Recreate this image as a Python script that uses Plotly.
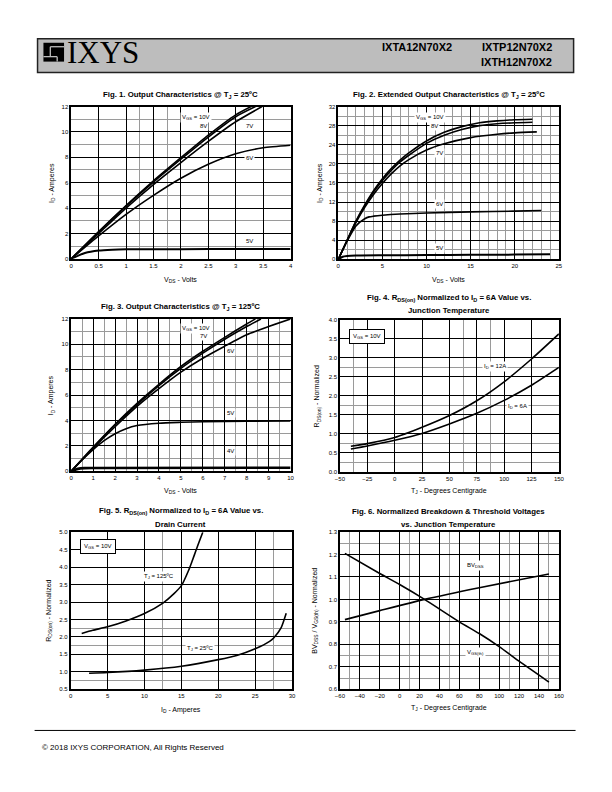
import plotly.graph_objects as go

F = "Liberation Sans"
FN = "Liberation Sans Narrow, Liberation Sans"

# ---------------- data ----------------
# Fig 1: Output characteristics @ 25C (VDS volts, ID amperes)
f1_x_10v = [0, 0.5, 1, 1.5, 2, 2.5, 3, 3.28]
f1_y_10v = [0, 2.15, 4.2, 6.15, 7.97, 9.75, 11.35, 12.0]
f1_x_8v = [0, 0.5, 1, 1.5, 2, 2.5, 3, 3.36]
f1_y_8v = [0, 2.1, 4.15, 6.05, 7.85, 9.6, 11.2, 12.0]
f1_x_7v = [0, 0.5, 1, 1.5, 2, 2.5, 3, 3.48]
f1_y_7v = [0, 2.0, 4.0, 5.85, 7.58, 9.25, 10.8, 12.0]
f1_x_6v = [0, 0.5, 1, 1.5, 2, 2.5, 3, 3.5, 4]
f1_y_6v = [0, 1.8, 3.5, 5.0, 6.35, 7.45, 8.28, 8.75, 8.95]
f1_x_5v = [0, 0.25, 0.5, 0.75, 1, 1.5, 2, 3, 4]
f1_y_5v = [0, 0.45, 0.65, 0.72, 0.75, 0.76, 0.76, 0.77, 0.78]

# Fig 2: Extended output characteristics @ 25C
f2_x_10v = [0, 1, 2, 3, 4, 5, 6, 7, 8, 10, 12, 14, 16, 18, 20, 22]
f2_y_10v = [0, 4, 8, 11.4, 14.4, 16.9, 19.0, 20.8, 22.3, 24.8, 26.6, 27.8, 28.6, 29.0, 29.25, 29.35]
f2_x_8v = [0, 1, 2, 3, 4, 5, 6, 7, 8, 10, 12, 14, 16, 18, 20, 22]
f2_y_8v = [0, 4, 7.9, 11.2, 14.1, 16.5, 18.6, 20.4, 21.8, 24.3, 26.0, 27.2, 28.0, 28.4, 28.6, 28.7]
f2_x_7v = [0, 1, 2, 3, 4, 5, 6, 7, 8, 10, 12, 15, 18, 20, 22.5]
f2_y_7v = [0, 3.9, 7.7, 10.9, 13.6, 15.9, 17.9, 19.6, 20.9, 22.9, 24.2, 25.5, 26.2, 26.5, 26.7]
f2_x_6v = [0, 1, 2, 3, 3.5, 4, 5, 7, 10, 15, 20, 23]
f2_y_6v = [0, 3.8, 7.0, 8.5, 8.9, 9.05, 9.25, 9.5, 9.7, 9.95, 10.1, 10.25]
f2_x_5v = [0, 0.5, 1, 2, 5, 10, 15, 20, 24]
f2_y_5v = [0, 0.55, 0.7, 0.8, 0.85, 0.9, 0.95, 1.0, 1.1]

# Fig 3: Output characteristics @ 125C
f3_x_10v = [0, 1, 2, 3, 4, 5, 6, 7, 8, 8.4]
f3_y_10v = [0, 1.9, 3.7, 5.35, 6.85, 8.25, 9.45, 10.55, 11.6, 12.0]
f3_x_7v = [0, 1, 2, 3, 4, 5, 6, 7, 8, 8.65]
f3_y_7v = [0, 1.85, 3.65, 5.25, 6.75, 8.1, 9.3, 10.4, 11.4, 12.0]
f3_x_6v = [0, 1, 2, 3, 4, 5, 6, 7, 8, 9, 10]
f3_y_6v = [0, 1.8, 3.5, 5.1, 6.5, 7.8, 8.9, 9.85, 10.75, 11.4, 12.0]
f3_x_5v = [0, 0.5, 1, 1.5, 2, 2.5, 3, 4, 5, 6, 8, 10]
f3_y_5v = [0, 0.9, 1.7, 2.4, 2.95, 3.35, 3.6, 3.78, 3.85, 3.9, 3.94, 3.96]
f3_x_4v = [0, 0.3, 0.6, 1, 10]
f3_y_4v = [0, 0.18, 0.24, 0.25, 0.27]

# Fig 4: RDS(on) normalized vs junction temperature
f4_tj = [-40, -25, 0, 25, 50, 75, 100, 125, 150]
f4_12a = [0.67, 0.74, 0.9, 1.17, 1.48, 1.87, 2.37, 2.97, 3.63]
f4_6a = [0.6, 0.68, 0.83, 1.01, 1.26, 1.54, 1.88, 2.28, 2.75]

# Fig 5: RDS(on) normalized vs drain current
f5_x_125 = [1.5, 3, 5, 7.5, 10, 12.5, 14, 15, 16, 16.5, 17, 17.5, 17.9]
f5_y_125 = [2.1, 2.19, 2.29, 2.46, 2.67, 2.97, 3.24, 3.47, 3.92, 4.2, 4.49, 4.78, 5.0]
f5_x_25 = [2.5, 5, 10, 15, 20, 22.5, 25, 27, 27.5, 28.5, 29.2]
f5_y_25 = [0.96, 0.98, 1.05, 1.16, 1.35, 1.47, 1.66, 1.88, 1.97, 2.26, 2.68]

# Fig 6: Normalized breakdown & threshold voltages
f6_x_bv = [-55, -20, 25, 80, 150]
f6_y_bv = [0.91, 0.95, 1.0, 1.052, 1.113]
f6_x_vth = [-55, -20, 0, 25, 60, 80, 100, 120, 150]
f6_y_vth = [1.205, 1.115, 1.066, 1.0, 0.9, 0.848, 0.79, 0.725, 0.632]

# ---------------- helpers ----------------
OFF = 8  # default page body margin
W, H = 612 - OFF, 792 - OFF
def X(px): return (px - OFF) / W
def Y(py): return 1 - (py - OFF) / H

fig = go.Figure()

def line(x, y, ax, width=1.6):
    fig.add_trace(go.Scatter(x=x, y=y, mode="lines", xaxis="x" + ax, yaxis="y" + ax,
                             line=dict(color="black", width=width, shape="spline", smoothing=0.6),
                             showlegend=False, hoverinfo="skip"))

def axis(dom, rng, dtick, minor_vals, anchor, fmt=None):
    d = dict(domain=dom, range=rng, dtick=dtick, tick0=0, showgrid=True, gridcolor="black",
             gridwidth=1, showline=True, linecolor="black", linewidth=1.5, mirror=True,
             zeroline=False, ticks="", tickfont=dict(size=6, family=F, color="black"),
             minor=dict(tickvals=minor_vals, showgrid=True, gridcolor="#9a9a9a", gridwidth=1, ticks=""),
             anchor=anchor, fixedrange=True)
    if fmt:
        d["tickformat"] = fmt
    return d

# plot areas in page pixels (left, right, top, bottom)
A1 = (67.3, 290.7, 104.3, 257.7)
A2 = (339.3, 564.0, 104.3, 258.3)
A3 = (67.3, 290.7, 318.3, 471.7)
A4 = (341.0, 564.0, 319.3, 472.3)
A5 = (66.7, 292.3, 533.3, 691.5)
A6 = (341.0, 564.0, 533.0, 691.5)

def xd(a): return [X(a[0]), X(a[1])]
def yd(a): return [Y(a[3]), Y(a[2])]

def frange(lo, hi, step):
    out, v = [], lo
    while v <= hi + 1e-9:
        out.append(round(v, 4)); v += step
    return out

layout_axes = dict(
    xaxis=axis(xd(A1), [0, 4], 0.5, [1.25, 1.75], "y"),
    yaxis=axis(yd(A1), [0, 12], 2, [1, 3, 5, 7, 9, 11], "x"),
    xaxis2=axis(xd(A2), [0, 25], 5, [v for v in range(1, 25) if v % 5], "y2"),
    yaxis2=axis(yd(A2), [0, 32], 4, frange(2, 30, 4), "x2"),
    xaxis3=axis(xd(A3), [0, 10], 1, frange(0.5, 9.5, 1), "y3"),
    yaxis3=axis(yd(A3), [0, 12], 2, [1, 3, 5, 7, 9, 11], "x3"),
    xaxis4=axis(xd(A4), [-50, 150], 25, [-37.5, 62.5, 87.5], "y4"),
    yaxis4=axis(yd(A4), [0, 4], 0.5, [0.25, 0.75, 1.75, 2.75], "x4", ".1f"),
    xaxis5=axis(xd(A5), [0, 30], 5, [12.5, 27.5], "y5"),
    yaxis5=axis(yd(A5), [0.5, 5.0], 0.5, [0.75, 1.75, 2.25], "x5", ".1f"),
    xaxis6=axis(xd(A6), [-60, 160], 20, [-50, 10, 50, 110, 150], "y6"),
    yaxis6=axis(yd(A6), [0.6, 1.3], 0.1, [0.65, 0.75, 1.25], "x6", ".1f"),
)

# traces
line(f1_x_10v, f1_y_10v, ""); line(f1_x_8v, f1_y_8v, ""); line(f1_x_7v, f1_y_7v, "")
line(f1_x_6v, f1_y_6v, ""); line(f1_x_5v, f1_y_5v, "", 2)
line(f2_x_10v, f2_y_10v, "2"); line(f2_x_8v, f2_y_8v, "2"); line(f2_x_7v, f2_y_7v, "2")
line(f2_x_6v, f2_y_6v, "2"); line(f2_x_5v, f2_y_5v, "2", 2)
line(f3_x_10v, f3_y_10v, "3"); line(f3_x_7v, f3_y_7v, "3"); line(f3_x_6v, f3_y_6v, "3")
line(f3_x_5v, f3_y_5v, "3"); line(f3_x_4v, f3_y_4v, "3", 2.6)
line(f4_tj, f4_12a, "4"); line(f4_tj, f4_6a, "4")
line(f5_x_125, f5_y_125, "5"); line(f5_x_25, f5_y_25, "5")
line(f6_x_bv, f6_y_bv, "6"); line(f6_x_vth, f6_y_vth, "6")

ann = []
def lab(text, x, y, ax, size=6, box=False):
    a = dict(text=text, x=x, y=y, xref="x" + ax, yref="y" + ax, showarrow=False,
             font=dict(size=size, family=F, color="black"), bgcolor="white", borderpad=1)
    if box:
        a.update(bordercolor="black", borderwidth=1, borderpad=3)
    ann.append(a)

def ptext(text, px, py, size=7, bold=False, angle=0, family=F, xanchor="center", yanchor="middle"):
    ann.append(dict(text=("<b>%s</b>" % text) if bold else text, x=X(px), y=Y(py), xref="paper",
                    yref="paper", showarrow=False, textangle=angle, xanchor=xanchor, yanchor=yanchor,
                    font=dict(size=size, family=family, color="black")))

# series labels
lab("V<sub>GS</sub> = 10V", 2.27, 11.17, ""); lab("8V", 2.41, 10.45, ""); lab("7V", 3.26, 10.45, "")
lab("6V", 3.26, 7.95, ""); lab("5V", 3.26, 1.38, "")
lab("V<sub>GS</sub> = 10V", 10.45, 29.8, "2"); lab("8V", 10.9, 27.9, "2"); lab("7V", 11.5, 22.3, "2")
lab("6V", 11.45, 11.6, "2"); lab("5V", 11.45, 2.4, "2")
lab("V<sub>GS</sub> = 10V", 5.67, 11.27, "3"); lab("7V", 6.04, 10.64, "3"); lab("6V", 7.25, 9.44, "3")
lab("5V", 7.25, 4.57, "3"); lab("4V", 7.25, 1.62, "3")
lab("V<sub>GS</sub> = 10V", -25.5, 3.57, "4", box=True)
lab("I<sub>D</sub> = 12A", 92, 2.76, "4"); lab("I<sub>D</sub> = 6A", 112.6, 1.72, "4")
lab("V<sub>GS</sub> = 10V", 3.76, 4.58, "5", box=True)
lab("T<sub>J</sub> = 125ºC", 11.97, 3.72, "5"); lab("T<sub>J</sub> = 25ºC", 17.5, 1.66, "5")
lab("BV<sub>DSS</sub>", 76.1, 1.15, "6"); lab("V<sub>GS(th)</sub>", 76.1, 0.762, "6")

# titles
TS = 7.8
ptext("Fig. 1. Output Characteristics @ T<sub>J</sub> = 25ºC", 179, 93, TS, True, family=FN)
ptext("Fig. 2. Extended Output Characteristics @ T<sub>J</sub> = 25ºC", 452, 93, TS, True, family=FN)
ptext("Fig. 3. Output Characteristics @ T<sub>J</sub> = 125ºC", 179, 306, TS, True, family=FN)
ptext("Fig. 4. R<sub>DS(on)</sub> Normalized to I<sub>D</sub> = 6A Value vs.", 452, 297, TS, True, family=FN)
ptext("Junction Temperature", 452, 310, TS, True, family=FN)
ptext("Fig. 5. R<sub>DS(on)</sub> Normalized to I<sub>D</sub> = 6A Value vs.", 179, 512, TS, True, family=FN)
ptext("Drain Current", 179, 525, TS, True, family=FN)
ptext("Fig. 6. Normalized Breakdown & Threshold Voltages", 452, 512, TS, True, family=FN)
ptext("vs. Junction Temperature", 452, 525, TS, True, family=FN)

# axis titles
AS = 7
ptext("V<sub>DS</sub> - Volts", 179, 279, AS)
ptext("I<sub>D</sub> - Amperes", 47, 181, AS, angle=-90)
ptext("V<sub>DS</sub> - Volts", 452, 279, AS)
ptext("I<sub>D</sub> - Amperes", 320, 181, AS, angle=-90)
ptext("V<sub>DS</sub> - Volts", 179, 492, AS)
ptext("I<sub>D</sub> - Amperes", 47, 395, AS, angle=-90)
ptext("T<sub>J</sub> - Degrees Centigrade", 452, 492, AS)
ptext("R<sub>DS(on)</sub> - Normalized", 318, 396, AS, angle=-90)
ptext("I<sub>D</sub> - Amperes", 179, 712, AS)
ptext("R<sub>DS(on)</sub> - Normalized", 45, 612, AS, angle=-90)
ptext("T<sub>J</sub> - Degrees Centigrade", 452, 710, AS)
ptext("BV<sub>DSS</sub> / V<sub>GS(th)</sub> - Normalized", 316, 612, AS, angle=-90)

# header
ptext("IXYS", 61, 50, 31, family="Liberation Serif", xanchor="left")
ptext("IXTA12N70X2", 420, 44, 11, True)
ptext("IXTP12N70X2", 521, 44, 11, True)
ptext("IXTH12N70X2", 521, 59, 11, True)
# footer
ptext("© 2018 IXYS CORPORATION, All Rights Reserved", 35, 750, 8, xanchor="left")

shapes = [
    dict(type="rect", xref="paper", yref="paper", x0=X(33), x1=X(579), y0=Y(70), y1=Y(36),
         fillcolor="#bdbdbd", line=dict(color="#222", width=1.5), layer="below"),
    dict(type="rect", xref="paper", yref="paper", x0=X(39), x1=X(60), y0=Y(59), y1=Y(40),
         fillcolor="black", line=dict(width=0)),
    dict(type="line", xref="paper", yref="paper", x0=X(46), x1=X(60), y0=Y(44), y1=Y(44),
         line=dict(color="#bdbdbd", width=1.3)),
    dict(type="line", xref="paper", yref="paper", x0=X(46), x1=X(46), y0=Y(44), y1=Y(54),
         line=dict(color="#bdbdbd", width=1.3)),
    dict(type="line", xref="paper", yref="paper", x0=X(39), x1=X(53), y0=Y(54), y1=Y(54),
         line=dict(color="#bdbdbd", width=1.3)),
    dict(type="line", xref="paper", yref="paper", x0=X(53), x1=X(53), y0=Y(54), y1=Y(59),
         line=dict(color="#bdbdbd", width=1.3)),
    dict(type="line", xref="paper", yref="paper", x0=X(30), x1=X(581), y0=Y(733), y1=Y(733),
         line=dict(color="black", width=1)),
]

fig.update_layout(width=W, height=H, autosize=False, margin=dict(l=0, r=0, t=0, b=0),
                  paper_bgcolor="white", plot_bgcolor="white", annotations=ann, shapes=shapes,
                  font=dict(family=F, color="black"), **layout_axes)

fig.write_html("out.html", config={"displayModeBar": False})
